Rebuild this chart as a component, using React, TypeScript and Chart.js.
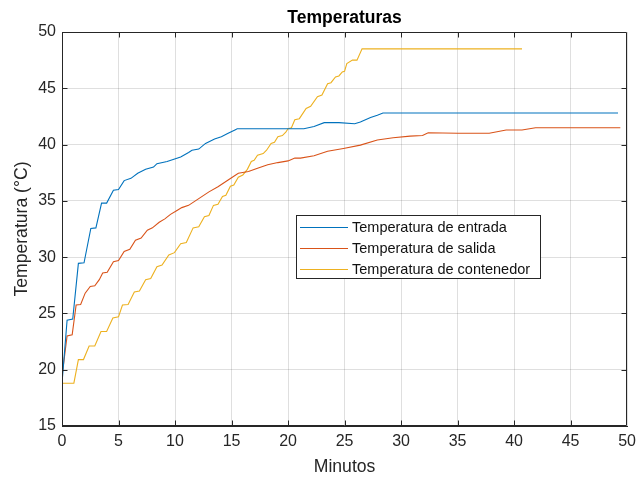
import React, { useEffect, useRef } from "react";
import { Chart, registerables } from "chart.js";

Chart.register(...registerables);

const chartTitle = "Temperaturas";
const xLabel = "Minutos";
const yLabel = "Temperatura (°C)";
const seriesNames = ["Temperatura de entrada", "Temperatura de salida", "Temperatura de contenedor"];
const seriesColors = ["#0072BD", "#D95319", "#EDB120"];

const xTicks = [0, 5, 10, 15, 20, 25, 30, 35, 40, 45, 50];
const yTicks = [15, 20, 25, 30, 35, 40, 45, 50];

const entradaMin = [0, 0.45, 0.95, 1.45, 1.95, 2.55, 3.0, 3.5, 3.95, 4.55, 5.0, 5.5, 6.1, 6.7, 7.4, 8.1, 8.4, 9.3, 9.9, 10.5, 11.2, 11.5, 12.1, 12.7, 13.5, 14.1, 14.7, 15.3, 15.5, 20.0, 21.4, 22.3, 23.2, 24.5, 25.9, 26.4, 27.3, 27.9, 28.4, 49.2];
const entradaTemp = [18.8, 24.4, 24.5, 29.45, 29.5, 32.55, 32.6, 34.8, 34.8, 35.95, 36.0, 36.8, 37.0, 37.45, 37.8, 38.0, 38.3, 38.5, 38.7, 38.9, 39.3, 39.5, 39.6, 40.1, 40.5, 40.7, 41.0, 41.3, 41.4, 41.4, 41.4, 41.6, 41.95, 41.95, 41.85, 42.0, 42.4, 42.6, 42.8, 42.8];

const salidaMin = [0, 0.45, 0.9, 1.25, 1.65, 2.05, 2.5, 2.9, 3.3, 3.6, 4.0, 4.55, 5.0, 5.5, 6.0, 6.5, 7.0, 7.55, 8.0, 8.6, 9.1, 9.6, 10.1, 10.6, 11.2, 12.1, 13.0, 13.8, 14.7, 15.6, 16.5, 17.3, 18.2, 19.1, 20.0, 20.6, 21.1, 22.3, 23.5, 24.9, 26.4, 27.9, 29.3, 30.8, 31.9, 32.4, 35.0, 37.8, 39.3, 40.7, 41.9, 44.5, 49.4];
const salidaTemp = [19.4, 23.0, 23.1, 25.75, 25.8, 26.8, 27.4, 27.45, 28.0, 28.6, 28.65, 29.6, 29.7, 30.5, 30.7, 31.5, 31.7, 32.4, 32.6, 33.1, 33.4, 33.8, 34.1, 34.4, 34.6, 35.2, 35.8, 36.25, 36.85, 37.45, 37.6, 37.9, 38.2, 38.4, 38.55, 38.8, 38.8, 39.0, 39.4, 39.65, 39.95, 40.4, 40.6, 40.75, 40.8, 41.05, 41.0, 41.0, 41.3, 41.3, 41.5, 41.5, 41.5];

const contenedorMin = [0, 1.05, 1.45, 1.9, 2.4, 2.9, 3.45, 3.95, 4.5, 5.0, 5.35, 5.85, 6.4, 6.85, 7.4, 7.85, 8.4, 8.85, 9.45, 9.95, 10.5, 11.0, 11.6, 12.1, 12.6, 13.0, 13.4, 13.8, 14.2, 14.5, 14.9, 15.2, 15.6, 16.0, 16.4, 16.75, 17.0, 17.3, 17.8, 18.1, 18.5, 18.8, 19.1, 19.5, 19.8, 20.0, 20.3, 20.6, 21.0, 21.6, 22.0, 22.6, 23.0, 23.5, 23.8, 24.2, 24.5, 24.8, 25.0, 25.2, 25.7, 26.1, 26.55, 40.7];
const contenedorTemp = [18.8, 18.8, 20.9, 20.9, 22.1, 22.1, 23.4, 23.4, 24.6, 24.7, 25.75, 25.8, 26.9, 27.0, 28.0, 28.1, 29.15, 29.3, 30.2, 30.4, 31.2, 31.3, 32.6, 32.7, 33.6, 33.7, 34.6, 34.7, 35.4, 35.5, 36.3, 36.4, 37.1, 37.3, 37.8, 38.5, 38.6, 39.05, 39.2, 39.5, 40.1, 40.2, 40.7, 40.8, 41.1, 41.4, 41.5, 42.2, 42.3, 43.2, 43.4, 44.25, 44.4, 45.4, 45.5, 46.0, 46.1, 46.45, 46.5, 47.2, 47.5, 47.5, 48.5, 48.5];

const FONT = '"Liberation Sans", Arial, Helvetica, sans-serif';
const AXIS_COLOR = "#262626";

const toPoints = (xs: number[], ys: number[]) => xs.map((x, i) => ({ x, y: ys[i] }));

const framePlugin = {
  id: "matlabFrame",
  afterDraw(chart: any) {
    const { ctx, chartArea: a, scales } = chart;
    const xs = scales.x;
    const ys = scales.y;
    const tl = 5;
    ctx.save();
    ctx.strokeStyle = AXIS_COLOR;
    ctx.lineWidth = 1;
    ctx.beginPath();
    const L = Math.round(a.left) + 0.5, R = Math.round(a.right) - 0.5;
    const T = Math.round(a.top) + 0.5, B = Math.round(a.bottom) - 0.5;
    ctx.rect(L, T, R - L, B - T);
    xTicks.forEach((v) => {
      const p = Math.round(xs.getPixelForValue(v)) + 0.5;
      if (p <= L + 1 || p >= R - 1) return;
      ctx.moveTo(p, B); ctx.lineTo(p, B - tl);
      ctx.moveTo(p, T); ctx.lineTo(p, T + tl);
    });
    yTicks.forEach((v) => {
      const p = Math.round(ys.getPixelForValue(v)) + 0.5;
      if (p <= T + 1 || p >= B - 1) return;
      ctx.moveTo(L, p); ctx.lineTo(L + tl, p);
      ctx.moveTo(R, p); ctx.lineTo(R - tl, p);
    });
    ctx.stroke();

    // legend box
    const bx = 296.5, by = 215.5, bw = 244, bh = 63;
    ctx.fillStyle = "#ffffff";
    ctx.fillRect(bx, by, bw, bh);
    ctx.strokeStyle = AXIS_COLOR;
    ctx.strokeRect(bx, by, bw, bh);
    ctx.font = `14.5px ${FONT}`;
    ctx.textBaseline = "middle";
    ctx.textAlign = "left";
    chart.data.datasets.forEach((ds: any, i: number) => {
      const yy = 227.5 + i * 21;
      ctx.strokeStyle = ds.borderColor;
      ctx.beginPath();
      ctx.moveTo(300, yy);
      ctx.lineTo(348, yy);
      ctx.stroke();
      ctx.fillStyle = "#111111";
      ctx.fillText(ds.label, 352, yy);
    });
    ctx.restore();
  },
};

export default function App() {
  const ref = useRef<HTMLCanvasElement | null>(null);
  useEffect(() => {
    if (!ref.current) return;
    const chart = new Chart(ref.current, {
      type: "line",
      data: {
        datasets: [
          { label: seriesNames[0], data: toPoints(entradaMin, entradaTemp), borderColor: seriesColors[0] },
          { label: seriesNames[1], data: toPoints(salidaMin, salidaTemp), borderColor: seriesColors[1] },
          { label: seriesNames[2], data: toPoints(contenedorMin, contenedorTemp), borderColor: seriesColors[2] },
        ].map((d) => ({ ...d, borderWidth: 1.1, pointRadius: 0, tension: 0, fill: false, backgroundColor: d.borderColor })),
      },
      options: {
        responsive: false,
        animation: false,
        devicePixelRatio: 1,
        layout: { padding: { left: 0, right: 10, top: 0, bottom: 0 } },
        plugins: {
          legend: { display: false },
          tooltip: { enabled: false },
          title: {
            display: true,
            text: chartTitle,
            fullSize: false,
            color: "#000000",
            font: { family: FONT, size: 17.5, weight: "bold", lineHeight: 1.2 },
            padding: { top: 8, bottom: 3 },
          },
        },
        scales: {
          x: {
            type: "linear",
            min: xTicks[0],
            max: xTicks[xTicks.length - 1],
            afterFit: (s: any) => { s.height = 52; },
            afterBuildTicks: (s: any) => { s.ticks = xTicks.map((v) => ({ value: v })); },
            ticks: { color: AXIS_COLOR, font: { family: FONT, size: 16 }, padding: 6, maxRotation: 0 },
            grid: { color: "rgba(38,38,38,0.15)", lineWidth: 1, drawTicks: false },
            border: { display: true, color: AXIS_COLOR },
            title: { display: true, text: xLabel, color: AXIS_COLOR, font: { family: FONT, size: 17.6 }, padding: 0 },
          },
          y: {
            type: "linear",
            min: yTicks[0],
            max: yTicks[yTicks.length - 1],
            afterFit: (s: any) => { s.width = 62; },
            afterBuildTicks: (s: any) => { s.ticks = yTicks.map((v) => ({ value: v })); },
            ticks: { color: AXIS_COLOR, font: { family: FONT, size: 16 }, padding: 6 },
            grid: { color: "rgba(38,38,38,0.15)", lineWidth: 1, drawTicks: false },
            border: { display: true, color: AXIS_COLOR },
            title: { display: true, text: yLabel, color: AXIS_COLOR, font: { family: FONT, size: 17.6 }, padding: 12 },
          },
        },
      },
      plugins: [framePlugin],
    } as any);
    return () => chart.destroy();
  }, []);
  return (
    <div style={{ position: "absolute", left: 0, top: 0, width: 642, height: 478, background: "#fff" }}>
      <canvas ref={ref} width={642} height={478} style={{ display: "block" }} />
    </div>
  );
}
